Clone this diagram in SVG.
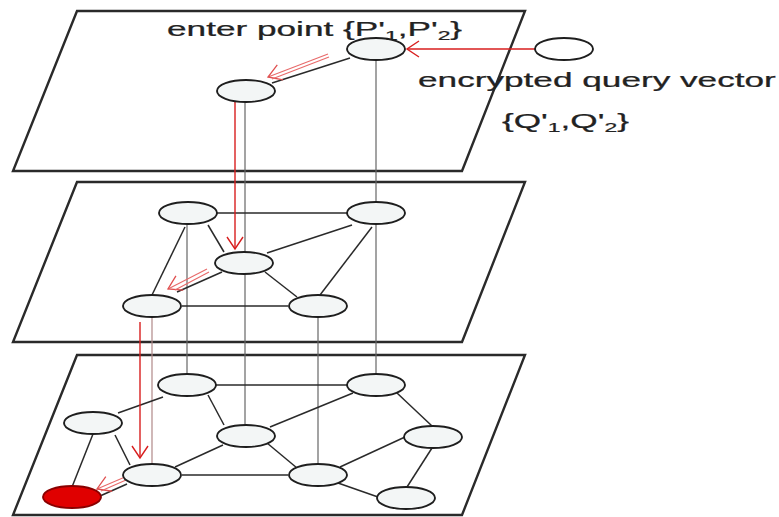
<svg xmlns="http://www.w3.org/2000/svg" width="779" height="517" viewBox="0 0 779 517">
<style>
.plane{fill:#fff;stroke:#2a2a2a;stroke-width:2.4;stroke-linejoin:miter}
.node{fill:#f3f6f6;stroke:#1e1e1e;stroke-width:1.9}
.edge{stroke:#2a2a2a;stroke-width:1.5;fill:none}
.vert{stroke:#666;stroke-width:1.2;fill:none}
.red{stroke:#d81e1e;stroke-width:1.4;fill:none}
.red2{stroke:#e86a6a;stroke-width:1.1;fill:none}
.lbl{font-family:"Liberation Sans",Arial,sans-serif;font-size:20px;fill:#222;stroke:#222;stroke-width:0.25}
.sub{font-size:13px}
</style>
<defs>
<marker id="ah" markerUnits="userSpaceOnUse" markerWidth="20" markerHeight="20" viewBox="-14 -10 16 20" refX="0" refY="0" orient="auto">
<path d="M-12,-8 L0,0 L-12,8" fill="none" stroke="#d81e1e" stroke-width="1.4"/>
</marker>
<marker id="ah2" markerUnits="userSpaceOnUse" markerWidth="20" markerHeight="20" viewBox="-14 -10 16 20" refX="0" refY="0" orient="auto">
<path d="M-13,-8 L0,0 L-13,8" fill="none" stroke="#e05050" stroke-width="1.3"/>
</marker>
</defs>

<g id="planes">
<polygon id="plane-top" class="plane" points="77,11 525,11 462,171 13,171"/>
<polygon id="plane-mid" class="plane" points="77,182 525,182 462,342 13,342"/>
<polygon id="plane-bot" class="plane" points="77,355 525,355 462,515 13,515"/>
</g>

<g id="connectors">
<line class="vert" x1="376" y1="60" x2="376" y2="202"/>
<line class="vert" x1="376" y1="224" x2="376" y2="374"/>
<line class="vert" x1="245" y1="102" x2="245" y2="252"/>
<line class="vert" x1="245" y1="274" x2="245" y2="425"/>
<line class="vert" x1="187" y1="224" x2="187" y2="374"/>
<line class="vert" x1="152" y1="317" x2="152" y2="464" style="stroke:#b08888"/>
<line class="vert" x1="318" y1="317" x2="318" y2="464"/>
<line class="edge" x1="350" y1="58" x2="272" y2="83"/>
<line class="edge" x1="217" y1="213" x2="347" y2="213"/>
<line class="edge" x1="208" y1="225" x2="224" y2="252"/>
<line class="edge" x1="185" y1="227" x2="152" y2="295"/>
<line class="edge" x1="352" y1="225" x2="267" y2="253"/>
<line class="edge" x1="372" y1="227" x2="320" y2="295"/>
<line class="edge" x1="265" y1="272" x2="297" y2="297"/>
<line class="edge" x1="182" y1="306" x2="288" y2="306"/>
<line class="edge" x1="222" y1="272" x2="177" y2="292"/>
<line class="edge" x1="215" y1="385" x2="347" y2="385"/>
<line class="edge" x1="163" y1="397" x2="118" y2="413"/>
<line class="edge" x1="208" y1="395" x2="224" y2="425"/>
<line class="edge" x1="115" y1="435" x2="130" y2="465"/>
<line class="edge" x1="93" y1="434" x2="72" y2="487"/>
<line class="edge" x1="175" y1="467" x2="223" y2="445"/>
<line class="edge" x1="182" y1="475" x2="288" y2="475"/>
<line class="edge" x1="127" y1="484" x2="100" y2="496"/>
<line class="edge" x1="267" y1="443" x2="297" y2="468"/>
<line class="edge" x1="270" y1="427" x2="353" y2="393"/>
<line class="edge" x1="340" y1="467" x2="405" y2="437"/>
<line class="edge" x1="338" y1="483" x2="378" y2="497"/>
<line class="edge" x1="397" y1="393" x2="432" y2="426"/>
<line class="edge" x1="432" y1="448" x2="407" y2="487"/>
<line class="red" x1="535" y1="49" x2="407" y2="49" marker-end="url(#ah)"/>
<line class="red2" x1="328" y1="54" x2="268" y2="77" marker-end="url(#ah2)"/>
<line class="red2" x1="329" y1="57" x2="272" y2="79"/>
<line class="red" x1="235" y1="102" x2="235" y2="249" marker-end="url(#ah)"/>
<line class="red2" x1="207" y1="269" x2="168" y2="289" marker-end="url(#ah2)"/>
<line class="red2" x1="209" y1="272" x2="175" y2="290"/>
<line class="red" x1="140" y1="322" x2="140" y2="458" marker-end="url(#ah)"/>
<line class="red2" x1="125" y1="477" x2="97" y2="489" marker-end="url(#ah2)"/>
<line class="red2" x1="126" y1="480" x2="101" y2="491"/>
</g>

<g id="node-enter"><ellipse class="node" cx="376" cy="49" rx="29" ry="11"/></g>
<g id="node-top2"><ellipse class="node" cx="246" cy="91" rx="29" ry="11"/></g>
<g id="node-query"><ellipse class="node" cx="564" cy="49" rx="29" ry="11" style="fill:#fff"/></g>

<g id="node-m1"><ellipse class="node" cx="188" cy="213" rx="29" ry="11"/></g>
<g id="node-m2"><ellipse class="node" cx="376" cy="213" rx="29" ry="11"/></g>
<g id="node-m3"><ellipse class="node" cx="244" cy="263" rx="29" ry="11"/></g>
<g id="node-m4"><ellipse class="node" cx="152" cy="306" rx="29" ry="11"/></g>
<g id="node-m5"><ellipse class="node" cx="318" cy="306" rx="29" ry="11"/></g>

<g id="node-b1"><ellipse class="node" cx="187" cy="385" rx="29" ry="11"/></g>
<g id="node-b2"><ellipse class="node" cx="376" cy="385" rx="29" ry="11"/></g>
<g id="node-b3"><ellipse class="node" cx="93" cy="423" rx="29" ry="11"/></g>
<g id="node-b4"><ellipse class="node" cx="246" cy="436" rx="29" ry="11"/></g>
<g id="node-b5"><ellipse class="node" cx="152" cy="475" rx="29" ry="11"/></g>
<g id="node-b6"><ellipse class="node" cx="318" cy="475" rx="29" ry="11"/></g>
<g id="node-b7"><ellipse class="node" cx="433" cy="437" rx="29" ry="11"/></g>
<g id="node-b8"><ellipse class="node" cx="406" cy="498" rx="29" ry="11"/></g>
<g id="node-result"><ellipse class="node" cx="72" cy="497" rx="29" ry="11" style="fill:#e00000;stroke:#8a0000"/></g>

<g id="labels">
<text class="lbl" transform="translate(167,36) scale(1.76,1)">enter point {P'<tspan class="sub" dy="4">1</tspan><tspan dy="-4">,P'</tspan><tspan class="sub" dy="4">2</tspan><tspan dy="-4">}</tspan></text>
<text class="lbl" transform="translate(418,87) scale(1.76,1)">encrypted query vector</text>
<text class="lbl" transform="translate(502,128) scale(1.76,1)">{Q'<tspan class="sub" dy="4">1</tspan><tspan dy="-4">,Q'</tspan><tspan class="sub" dy="4">2</tspan><tspan dy="-4">}</tspan></text>
</g>
</svg>
